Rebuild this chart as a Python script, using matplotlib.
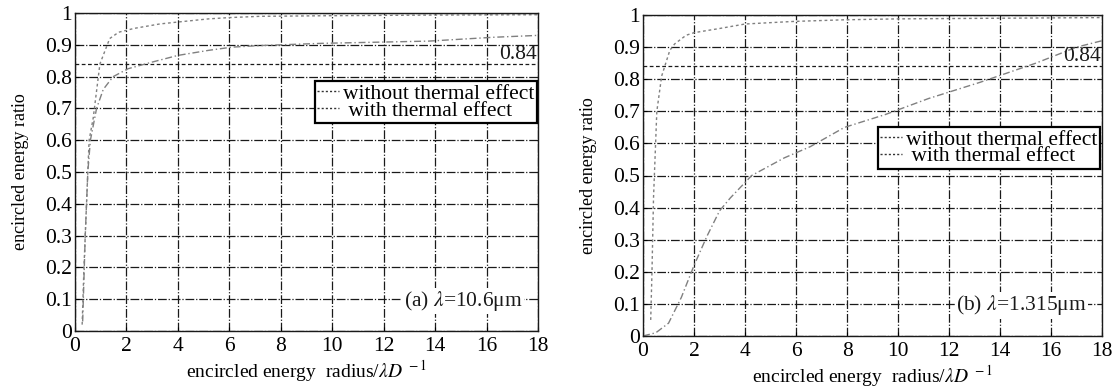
import matplotlib
matplotlib.use('Agg')
import matplotlib.pyplot as plt

plt.rcParams['font.family'] = ['Liberation Serif', 'DejaVu Serif']
plt.rcParams['mathtext.fontset'] = 'stix'

# (a) lambda = 10.6 um
xa_without = [0.28, 0.35, 0.45, 0.55, 0.71, 0.97, 1.35, 1.7, 2.3, 3.3, 4.0, 5.2, 6.0, 7.2, 10.0, 14.0, 18.0]
ya_without = [0.02, 0.20, 0.40, 0.60, 0.67, 0.84, 0.92, 0.94, 0.952, 0.966, 0.972, 0.982, 0.986, 0.99, 0.992, 0.994, 0.995]
xa_with = [0.30, 0.40, 0.50, 0.60, 0.84, 1.10, 1.48, 2.06, 3.0, 4.0, 5.2, 6.1, 7.2, 9.6, 13.75, 16.25, 18.0]
ya_with = [0.03, 0.30, 0.50, 0.60, 0.70, 0.76, 0.80, 0.825, 0.846, 0.867, 0.883, 0.893, 0.898, 0.905, 0.912, 0.924, 0.93]

# (b) lambda = 1.315 um
xb_without = [0.30, 0.35, 0.41, 0.54, 0.73, 1.05, 1.24, 1.69, 2.0, 3.0, 4.0, 5.9, 7.85, 10.0, 14.0, 18.0]
yb_without = [0.05, 0.20, 0.43, 0.70, 0.81, 0.89, 0.91, 0.937, 0.945, 0.958, 0.972, 0.98, 0.985, 0.988, 0.99, 0.992]
xb_with = [0.0, 0.5, 1.0, 1.5, 2.0, 2.5, 3.0, 3.42, 4.26, 5.54, 6.56, 7.9, 9.5, 11.2, 13.2, 15.4, 17.0, 18.0]
yb_with = [0.0, 0.01, 0.04, 0.12, 0.22, 0.31, 0.39, 0.43, 0.50, 0.555, 0.59, 0.65, 0.69, 0.74, 0.79, 0.85, 0.90, 0.92]

level = 0.84
xticks = list(range(0, 19, 2))
yticks = [i / 10 for i in range(11)]
ytick_labels = ['0'] + ['%.1f' % v for v in yticks[1:-1]] + ['1']

fig = plt.figure(figsize=(11.17, 3.9), dpi=100)
ax_a = fig.add_axes([0.0671, 0.1513, 0.4145, 0.815])
ax_b = fig.add_axes([0.5757, 0.1385, 0.411, 0.823])

grid_style = dict(color='0.1', linestyle=(0, (7, 1.5, 1, 1.5)), linewidth=0.9)


def draw_panel(ax, x1, y1, x2, y2, note, legend_anchor):
    ax.set_xlim(0, 18)
    ax.set_ylim(0, 1)
    ax.set_xticks(xticks)
    ax.set_yticks(yticks)
    ax.set_yticklabels(ytick_labels)
    ax.tick_params(labelsize=15.5, direction='in', length=3)
    ax.tick_params(axis='x', pad=4)
    ax.tick_params(axis='y', pad=2)
    ax.grid(True, **grid_style)
    for s in ax.spines.values():
        s.set_linewidth(1.0)
        s.set_color('0.1')
    ax.axhline(level, color='0.1', linestyle=(0, (3, 2)), linewidth=0.9)
    l1, = ax.plot(x1, y1, color='0.5', linestyle=(0, (2, 2)), linewidth=1.0)
    l2, = ax.plot(x2, y2, color='0.5', linestyle=(0, (5, 2, 1, 2)), linewidth=1.0)
    ax.text(17.95, 0.87, '0.84', fontsize=15.5, ha='right', va='center', color='0.1')
    ax.text(17.4, 0.095, note, fontsize=15.5, ha='right', va='center', color='0.1',
            bbox=dict(facecolor='white', edgecolor='none', pad=1.0))
    leg = ax.legend([l1, l2], ['without thermal effect', ' with thermal effect'],
                    loc='upper right', bbox_to_anchor=legend_anchor,
                    bbox_transform=ax.transData, fontsize=15.5, fancybox=False,
                    framealpha=1, edgecolor='black', handlelength=1.0,
                    handletextpad=0.2, borderpad=0.1, labelspacing=-0.15,
                    borderaxespad=0)
    leg.get_frame().set_linewidth(1.6)
    for h in leg.get_lines():
        h.set_color('0.2')
        h.set_linestyle((0, (1.5, 1.5)))
    ax.set_ylabel('encircled energy ratio', fontsize=13, labelpad=12)
    ax.set_xlabel(r'encircled energy  radius/$\lambda D^{\ -1}$', fontsize=14, labelpad=2)


draw_panel(ax_a, xa_without, ya_without, xa_with, ya_with,
           r'(a) $\lambda$=10.6μm', (17.95, 0.785))
draw_panel(ax_b, xb_without, yb_without, xb_with, yb_with,
           r'(b) $\lambda$=1.315μm', (17.9, 0.65))

fig.savefig('out.png', dpi=100)
